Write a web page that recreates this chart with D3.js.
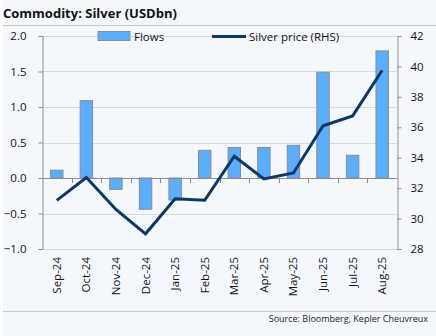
<!DOCTYPE html>
<html>
<head>
<meta charset="utf-8">
<script src="https://cdn.jsdelivr.net/npm/d3@7"></script>
<style>
  body { margin: 0; background: #fff; }
  svg { display: block; font-family: "Source Sans Pro", "Open Sans", sans-serif; }
</style>
</head>
<body>
<div id="chart"></div>
<script>
// monthly data
const months = ["Sep-24", "Oct-24", "Nov-24", "Dec-24", "Jan-25", "Feb-25",
                "Mar-25", "Apr-25", "May-25", "Jun-25", "Jul-25", "Aug-25"];
const flows = [0.11, 1.09, -0.16, -0.44, -0.31, 0.39, 0.43, 0.43, 0.46, 1.49, 0.32, 1.79];
const price = [31.2, 32.7, 30.6, 29.0, 31.3, 31.2, 34.1, 32.6, 33.0, 36.1, 36.75, 39.75];
const leftTicks = [-1.0, -0.5, 0.0, 0.5, 1.0, 1.5, 2.0];
const rightTicks = [28, 30, 32, 34, 36, 38, 40, 42];

const W = 436, H = 336;
const margin = {top: 36, right: 39, bottom: 87, left: 42},
      width = W - margin.left - margin.right,
      height = H - margin.top - margin.bottom;

const x = d3.scaleBand().domain(months).range([0, width]).paddingInner(0.58).paddingOuter(0.29);
const xs = d3.scaleBand().domain(months).range([0, width]);
const y = d3.scaleLinear().domain([-1, 2]).range([height, 0]);
const y2 = d3.scaleLinear().domain([28, 42]).range([height, 0]);

const svg = d3.select("#chart").append("svg")
              .attr("width", W)
              .attr("height", H);

svg.append("rect")
   .attr("x", 3).attr("y", 0)
   .attr("width", W - 3).attr("height", H)
   .attr("fill", "#f4f8fd");

// title and rules
svg.append("text")
   .attr("x", 3).attr("y", 18)
   .attr("font-size", 13).attr("font-weight", "bold")
   .attr("fill", "#111")
   .text("Commodity: Silver (USDbn)");

svg.append("line")
   .attr("x1", 3).attr("x2", W).attr("y1", 25.5).attr("y2", 25.5)
   .attr("stroke", "#c8c8c8");
svg.append("line")
   .attr("x1", 3).attr("x2", W).attr("y1", 311.5).attr("y2", 311.5)
   .attr("stroke", "#c8c8c8");

svg.append("text")
   .attr("x", 428).attr("y", 322)
   .attr("text-anchor", "end")
   .attr("font-size", 9)
   .attr("fill", "#222")
   .text("Source: Bloomberg, Kepler Cheuvreux");

const g = svg.append("g")
             .attr("transform", "translate(" + margin.left + "," + margin.top + ")");

// gridlines
g.append("g")
 .selectAll("line")
 .data(leftTicks)
 .enter().append("line")
 .attr("x1", 0).attr("x2", width)
 .attr("y1", d => Math.round(y(d)) + 0.5)
 .attr("y2", d => Math.round(y(d)) + 0.5)
 .attr("stroke", "#d9d9d9");

// left axis
const yAxis = g.append("g")
               .attr("transform", "translate(0.5,0)")
               .call(d3.axisLeft(y).tickValues(leftTicks).tickFormat(d3.format(".1f")).tickSizeOuter(0).tickSize(4).tickPadding(12));
// right axis
const yAxis2 = g.append("g")
                .attr("transform", "translate(" + (width + 0.5) + ",0)")
                .call(d3.axisRight(y2).tickValues(rightTicks).tickSizeOuter(0).tickSize(4).tickPadding(9));

[yAxis, yAxis2].forEach(a => {
  a.select(".domain").attr("stroke", "#8c8c8c");
  a.selectAll(".tick line").attr("stroke", "#8c8c8c");
  a.selectAll("text").attr("font-size", 11.5).attr("fill", "#111")
   .attr("font-family", "\"Source Sans Pro\", \"Open Sans\", sans-serif");
});

// bars
g.append("g")
 .selectAll("rect")
 .data(flows)
 .enter().append("rect")
 .attr("x", (d, i) => x(months[i]))
 .attr("width", x.bandwidth())
 .attr("y", d => y(Math.max(0, d)))
 .attr("height", d => Math.abs(y(d) - y(0)))
 .attr("fill", "#5aaeff")
 .attr("stroke", "#8c8c8c")
 .attr("stroke-width", 1);

// zero axis with ticks between categories
g.append("line")
 .attr("x1", 0).attr("x2", width)
 .attr("y1", Math.round(y(0)) + 0.5).attr("y2", Math.round(y(0)) + 0.5)
 .attr("stroke", "#8c8c8c");
g.append("g")
 .selectAll("line")
 .data(months.slice(1))
 .enter().append("line")
 .attr("x1", d => Math.round(xs(d)) + 0.5)
 .attr("x2", d => Math.round(xs(d)) + 0.5)
 .attr("y1", y(0)).attr("y2", y(0) + 5)
 .attr("stroke", "#8c8c8c");

// price line
const line = d3.line()
               .x((d, i) => xs(months[i]) + xs.bandwidth() / 2)
               .y(d => y2(d));
g.append("path")
 .datum(price)
 .attr("d", line)
 .attr("fill", "none")
 .attr("stroke", "#0b3866")
 .attr("stroke-width", 3)
 .attr("stroke-linejoin", "miter");

// category labels
g.append("g")
 .selectAll("text")
 .data(months)
 .enter().append("text")
 .attr("transform", d => "translate(" + (xs(d) + xs.bandwidth() / 2 + 4) + "," + (height + 8) + ")rotate(-90)")
 .attr("text-anchor", "end")
 .attr("font-size", 11.5)
 .attr("fill", "#111")
 .text(d => d);

// legend
const leg = svg.append("g");
leg.append("rect")
   .attr("x", 98).attr("y", 31.5)
   .attr("width", 32).attr("height", 9)
   .attr("fill", "#5aaeff").attr("stroke", "#8c8c8c");
leg.append("text")
   .attr("x", 134).attr("y", 40.5)
   .attr("font-size", 11.5).attr("fill", "#111")
   .text("Flows");
leg.append("line")
   .attr("x1", 212).attr("x2", 246).attr("y1", 36.5).attr("y2", 36.5)
   .attr("stroke", "#0b3866").attr("stroke-width", 3);
leg.append("text")
   .attr("x", 249).attr("y", 40.5)
   .attr("font-size", 11.5).attr("fill", "#111")
   .text("Silver price (RHS)");
</script>
</body>
</html>
